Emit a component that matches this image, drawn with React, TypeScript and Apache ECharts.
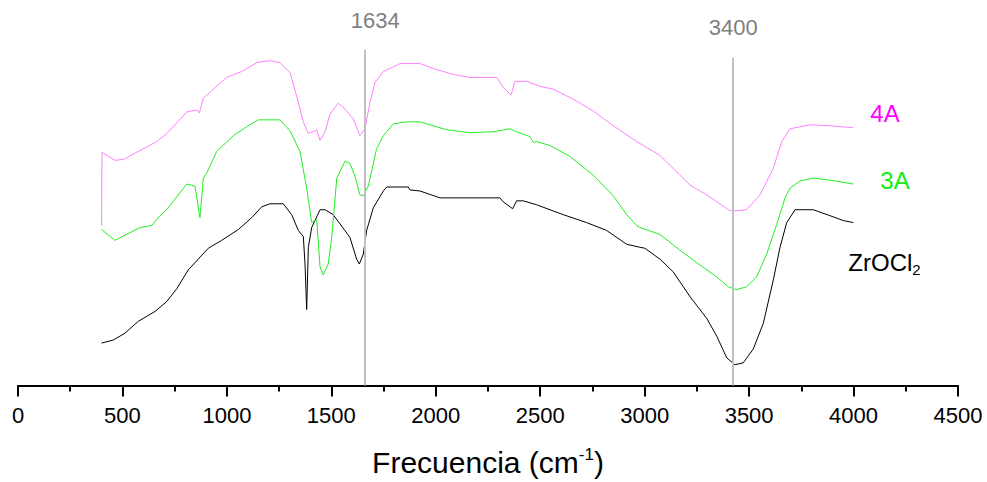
import React, { useEffect, useRef } from "react";
import * as echarts from "echarts";

// Wavenumber (cm-1) and relative intensity
const zrX = [400, 456, 512, 576, 656, 712, 760, 815, 863, 911, 975, 1055, 1119, 1167, 1206, 1270, 1310, 1342, 1366, 1374, 1382, 1390, 1406, 1446, 1470, 1509, 1589, 1621, 1634, 1653, 1669, 1701, 1749, 1765, 1868, 1877, 1924, 2020, 2307, 2323, 2368, 2387, 2419, 2483, 2610, 2722, 2818, 2914, 2977, 3001, 3073, 3137, 3217, 3297, 3345, 3393, 3432, 3472, 3520, 3568, 3616, 3648, 3680, 3720, 3807, 3887, 3951, 3999];
const zrY = [43, 46, 53, 65, 75, 85, 98, 117, 128, 139, 147, 158, 170, 181, 184, 184, 173, 157, 151, 123, 77, 140, 160, 178, 178, 173, 150, 128, 123, 133, 157, 180, 197, 201, 201, 198, 197, 190, 190, 186, 179, 187, 187, 183, 173, 165, 157, 143, 140, 139, 128, 115, 90, 68, 50, 28, 21, 23, 37, 63, 107, 140, 165, 178, 178, 172, 167, 165];

const a3X = [400, 464, 584, 640, 680, 712, 808, 847, 871, 887, 903, 951, 1031, 1095, 1150, 1254, 1302, 1350, 1382, 1406, 1430, 1446, 1461, 1485, 1502, 1526, 1565, 1589, 1613, 1637, 1653, 1677, 1717, 1749, 1797, 1861, 1924, 1988, 2052, 2164, 2275, 2355, 2387, 2451, 2467, 2483, 2547, 2642, 2754, 2850, 2914, 2962, 2977, 3073, 3169, 3265, 3345, 3400, 3440, 3488, 3536, 3584, 3632, 3672, 3696, 3743, 3807, 3887, 3999];
const a3Y = [158, 147, 160, 162, 172, 178, 204, 202, 170, 210, 215, 237, 253, 262, 269, 269, 258, 237, 200, 165, 168, 120, 112, 123, 150, 210, 227, 225, 212, 193, 192, 202, 240, 253, 265, 267, 267, 263, 259, 256, 257, 260, 257, 252, 246, 247, 243, 232, 213, 192, 173, 162, 160, 153, 137, 122, 110, 100, 97, 100, 110, 133, 163, 190, 200, 207, 210, 208, 204];

const a4X = [400, 402, 464, 504, 584, 664, 712, 808, 855, 868, 887, 919, 999, 1071, 1143, 1206, 1254, 1302, 1334, 1366, 1390, 1430, 1446, 1470, 1494, 1533, 1565, 1605, 1637, 1661, 1685, 1709, 1749, 1829, 1924, 1988, 2084, 2164, 2292, 2323, 2360, 2379, 2435, 2499, 2563, 2658, 2754, 2850, 2962, 3073, 3169, 3217, 3297, 3408, 3440, 3488, 3552, 3616, 3656, 3696, 3791, 3887, 3999];
const a4Y = [162, 236, 228, 229, 238, 247, 255, 277, 279, 276, 291, 297, 312, 318, 327, 329, 327, 317, 293, 267, 255, 259, 248, 257, 275, 286, 280, 270, 253, 260, 287, 307, 318, 326, 326, 321, 315, 312, 312, 302, 294, 308, 308, 303, 300, 290, 278, 263, 247, 233, 213, 203, 193, 177, 177, 178, 193, 220, 247, 260, 264, 263, 261];

const xTicks = { min: 0, max: 4500, interval: 500 };
const peakLinesX = [1658, 3424];
const peakLinesTop = [340, 332];
const peakLabels = ["1634", "3400"];

const zip = (xs: number[], ys: number[]) => xs.map((x, i) => [x, ys[i]]);

const FONT = "'Liberation Sans', Arial, sans-serif";

export default function App() {
  const ref = useRef<HTMLDivElement>(null);
  useEffect(() => {
    if (!ref.current) return;
    document.body.style.margin = "0";
    const chart = echarts.init(ref.current, null, { renderer: "svg", width: 987, height: 482 });
    const labelDist = [18, 19];
    const labelPad = [[0, 0, 0, 22], [0, 0, 0, 0]];
    chart.setOption({
      animation: false,
      backgroundColor: "#ffffff",
      textStyle: { fontFamily: FONT },
      grid: { left: 18, right: 29, top: 30, bottom: 92, containLabel: false },
      xAxis: {
        type: "value",
        min: xTicks.min,
        max: xTicks.max,
        interval: xTicks.interval,
        splitLine: { show: false },
        axisLine: { show: true, onZero: false, lineStyle: { color: "#000", width: 2 } },
        axisTick: { show: true, inside: false, length: 11, lineStyle: { color: "#000", width: 2 } },
        minorTick: { show: true, splitNumber: 2, length: 6, lineStyle: { color: "#000", width: 2 } },
        axisLabel: { color: "#000", fontSize: 22, margin: 19, fontFamily: FONT, formatter: (v: number) => String(v) },
        name: "Frecuencia (cm{sup|-1})",
        nameLocation: "middle",
        nameGap: 60,
        nameTextStyle: {
          color: "#000",
          fontSize: 30,
          fontFamily: FONT,
          rich: {
            sup: { fontSize: 17, color: "#000", fontFamily: FONT, verticalAlign: "top", padding: [0, 0, 16, 0] },
          },
        },
      },
      yAxis: { type: "value", min: 0, max: 360, show: false },
      series: [
        {
          name: "ZrOCl2",
          type: "line",
          data: zip(zrX, zrY),
          symbol: "none",
          lineStyle: { color: "#000000", width: 1 },
          endLabel: {
            show: true,
            formatter: "ZrOCl{sub|2}",
            color: "#000",
            fontSize: 24,
            fontFamily: FONT,
            offset: [-13, 40],
            rich: { sub: { fontSize: 15, color: "#000", fontFamily: FONT, padding: [14, 0, 0, 0] } },
          },
          markLine: {
            silent: true,
            symbol: "none",
            lineStyle: { color: "#c0c0c0", width: 2, type: "solid" },
            label: { show: true, position: "start", color: "#808080", fontSize: 22, fontFamily: FONT, distance: 18 },
            data: peakLinesX.map((x, i) => [
              {
                coord: [x, peakLinesTop[i]],
                name: peakLabels[i],
                label: { formatter: peakLabels[i], distance: labelDist[i], padding: labelPad[i] },
              },
              { coord: [x, 0] },
            ]),
          },
        },
        {
          name: "3A",
          type: "line",
          data: zip(a3X, a3Y),
          symbol: "none",
          lineStyle: { color: "#22ee22", width: 1 },
          endLabel: { show: true, formatter: "3A", color: "#11ee11", fontSize: 24, fontFamily: FONT, offset: [19, -4] },
        },
        {
          name: "4A",
          type: "line",
          data: zip(a4X, a4Y),
          symbol: "none",
          lineStyle: { color: "#ff80ff", width: 1 },
          endLabel: { show: true, formatter: "4A", color: "#ff00ff", fontSize: 24, fontFamily: FONT, offset: [9, -14] },
        },
      ],
    });
    return () => chart.dispose();
  }, []);
  return <div ref={ref} style={{ position: "fixed", left: 0, top: 0, width: 987, height: 482 }} />;
}
